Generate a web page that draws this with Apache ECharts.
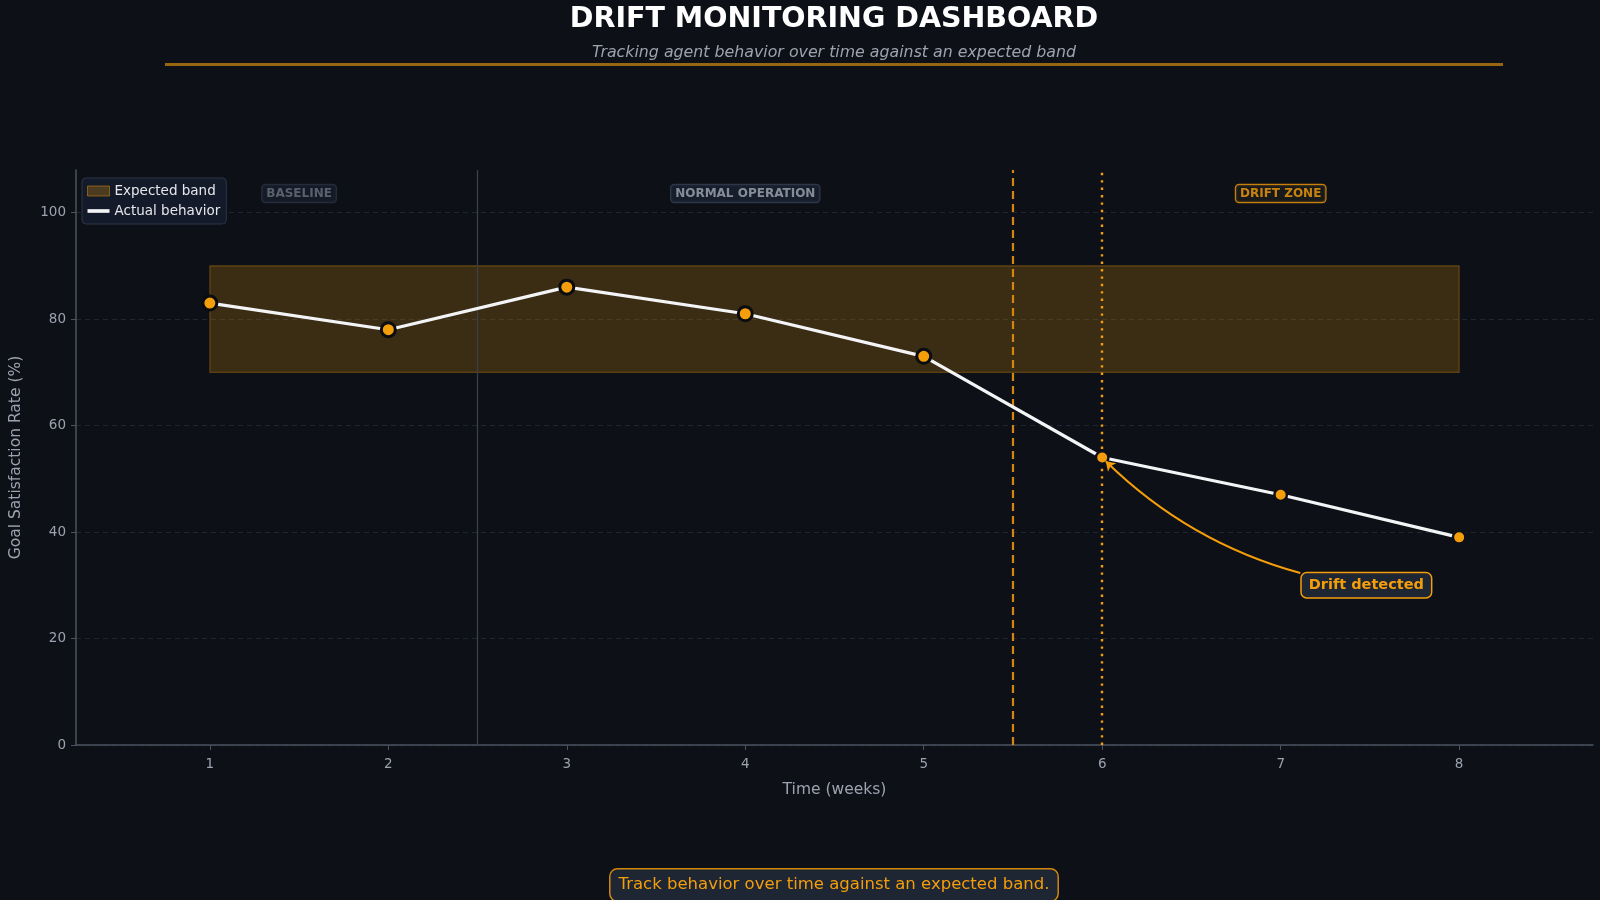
<!DOCTYPE html>
<html><head><meta charset="utf-8">
<script src="https://cdn.jsdelivr.net/npm/echarts@6/dist/echarts.min.js"></script>
<style>html,body{margin:0;padding:0;background:#0d1017;}#c{width:1600px;height:900px;}</style>
</head><body><div id="c"></div>
<script>
// ---- data ----
const weeks = [1, 2, 3, 4, 5, 6, 7, 8];
const actual = [83, 78, 86, 81, 73, 54, 47, 39];
const bandRange = [70, 90];
const bandWeeks = [1, 8];
const xTicks = [1, 2, 3, 4, 5, 6, 7, 8];
const yTicks = [0, 20, 40, 60, 80, 100];
const zoneNames = ['BASELINE', 'NORMAL OPERATION', 'DRIFT ZONE'];
const zoneWeeks = [1.5, 4, 7];
const zoneLevel = 103.6;
const phaseBoundary = 2.5;
const driftStart = 5.5;
const driftDetectedWeek = 6;
const annotationText = 'Drift detected';
const annotationAt = [7.48, 30];
const arrowFrom = [7.11, 32.3];
const arrowTo = [6.02, 53.3];

const ORANGE = '#f59e0b';
const BG = '#0d1017';
const FONT = '"DejaVu Sans", sans-serif';

const zoneStyles = [
  {color: '#6b7280', backgroundColor: '#171d2a', borderColor: '#2b3344'},
  {color: '#a3aab5', backgroundColor: '#192031', borderColor: '#364155'},
  {color: ORANGE, backgroundColor: '#1b1c1c', borderColor: ORANGE}
];

const chart = echarts.init(document.getElementById('c'), null, {renderer: 'canvas'});

const lineData = actual.map((v, i) => ({
  value: [weeks[i], v],
  symbolSize: i < 5 ? 14 : 12.5,
  itemStyle: {color: ORANGE, borderColor: i < 5 ? '#0a0c10' : BG, borderWidth: i < 5 ? 3 : 2.5}
}));

const zoneData = zoneNames.map((n, i) => ({
  value: [zoneWeeks[i], zoneLevel],
  label: {
    show: true, position: 'inside', formatter: n,
    color: zoneStyles[i].color, backgroundColor: zoneStyles[i].backgroundColor,
    borderColor: zoneStyles[i].borderColor, borderWidth: 1.2, borderRadius: 3,
    padding: [3, 4, 2, 4], fontSize: 12, fontWeight: 'bold', fontFamily: FONT
  }
}));

const option = {
  backgroundColor: BG,
  animation: false,
  textStyle: {fontFamily: FONT},
  grid: {left: 74.5, right: 7, top: 170, bottom: 155, containLabel: false},
  legend: {
    left: 82, top: 178, orient: 'vertical',
    backgroundColor: '#131a29', borderColor: '#2d3646', borderWidth: 1, borderRadius: 4,
    padding: [6, 6, 6, 5], itemGap: 6, itemWidth: 22, itemHeight: 10,
    textStyle: {color: '#e5e7eb', fontSize: 13.5, fontFamily: FONT},
    data: [
      {name: 'Expected band', icon: 'rect', itemStyle: {color: 'rgba(245,158,11,0.25)', borderColor: 'rgba(245,158,11,0.45)', borderWidth: 1}},
      {name: 'Actual behavior', icon: 'path://M0,0h24v4h-24z', itemStyle: {color: '#f3f4f6'}}
    ]
  },
  xAxis: {
    type: 'value', min: 0.25, max: 8.75,
    name: 'Time (weeks)', nameLocation: 'middle', nameGap: 37,
    nameTextStyle: {color: '#9ca3af', fontSize: 15.5, fontFamily: FONT},
    axisLine: {show: true, lineStyle: {color: '#4b5260', width: 1.5}},
    axisTick: {show: true, length: 5, lineStyle: {color: '#4b5260'}, customValues: xTicks},
    axisLabel: {color: '#9ca3af', fontSize: 13.5, margin: 12, customValues: xTicks, formatter: v => String(v)},
    splitLine: {show: false}
  },
  yAxis: {
    type: 'value', min: 0, max: 108, interval: 20,
    name: 'Goal Satisfaction Rate (%)', nameLocation: 'middle', nameGap: 52,
    nameTextStyle: {color: '#9ca3af', fontSize: 15.5, fontFamily: FONT},
    axisLine: {show: true, lineStyle: {color: '#4b5260', width: 1.5}},
    axisTick: {show: true, length: 5, lineStyle: {color: '#4b5260'}, customValues: yTicks},
    axisLabel: {color: '#9ca3af', fontSize: 13.5, margin: 10, customValues: yTicks},
    splitLine: {show: true, lineStyle: {color: '#1f2531', type: [5, 4], width: 1}}
  },
  series: [
    {
      name: 'Expected band', type: 'line', data: [], silent: true,
      markArea: {
        silent: true,
        itemStyle: {color: 'rgba(245,158,11,0.2)', borderColor: 'rgba(245,158,11,0.3)', borderWidth: 1.2},
        data: [[{coord: [bandWeeks[0], bandRange[0]]}, {coord: [bandWeeks[1], bandRange[1]]}]]
      },
      markLine: {
        silent: true, symbol: 'none', label: {show: false},
        data: [
          {xAxis: phaseBoundary, lineStyle: {color: '#3a3f4b', width: 1.3, type: 'solid'}},
          {xAxis: driftStart, lineStyle: {color: '#d4870c', width: 2.2, type: [8, 5]}},
          {xAxis: driftDetectedWeek, lineStyle: {color: ORANGE, width: 2.4, type: [2.4, 5]}}
        ]
      }
    },
    {
      name: 'Actual behavior', type: 'line', data: lineData, z: 5,
      symbol: 'circle', showSymbol: true,
      lineStyle: {color: '#f3f4f6', width: 3.2},
      itemStyle: {color: ORANGE}
    },
    {
      name: 'arrow', type: 'lines', coordinateSystem: 'cartesian2d', z: 6, silent: true,
      symbol: ['none', 'arrow'], symbolSize: 9,
      lineStyle: {color: ORANGE, width: 2, opacity: 1, curveness: 0.13},
      data: [{coords: [arrowFrom, arrowTo]}]
    },
    {
      name: 'annotation', type: 'line', data: [], z: 7,
      markPoint: {
        silent: true, symbol: 'rect', symbolSize: 0,
        data: [{coord: annotationAt, label: {
          show: true, position: 'inside', formatter: annotationText,
          color: ORANGE, fontSize: 14.5, fontWeight: 'bold', fontFamily: FONT,
          backgroundColor: '#1e2533', borderColor: ORANGE, borderWidth: 1.5, borderRadius: 5,
          padding: [5, 7, 4, 7]
        }}]
      }
    },
    {
      name: 'zones', type: 'scatter', data: zoneData, symbolSize: 0, z: 7, silent: true
    }
  ],
  graphic: [
    {type: 'text', x: 834, y: 20, style: {text: 'DRIFT MONITORING DASHBOARD', fill: '#ffffff', fontSize: 28.5, fontWeight: 'bold', fontFamily: FONT, align: 'center', verticalAlign: 'middle'}},
    {type: 'text', x: 834, y: 53, style: {text: 'Tracking agent behavior over time against an expected band', fill: '#9ca3af', fontSize: 15.8, fontStyle: 'italic', fontFamily: FONT, align: 'center', verticalAlign: 'middle'}},
    {type: 'line', shape: {x1: 165, y1: 64.5, x2: 1503, y2: 64.5}, style: {stroke: 'rgba(245,158,11,0.6)', lineWidth: 3}},
    {type: 'text', x: 834, y: 885, style: {text: 'Track behavior over time against an expected band.', fill: ORANGE, fontSize: 16.5, fontFamily: FONT, align: 'center', verticalAlign: 'middle', backgroundColor: '#1e2533', borderColor: 'rgba(245,158,11,0.85)', borderWidth: 1.5, borderRadius: 7, padding: [7, 8, 7, 8]}}
  ]
};
chart.setOption(option);
</script>
</body></html>
